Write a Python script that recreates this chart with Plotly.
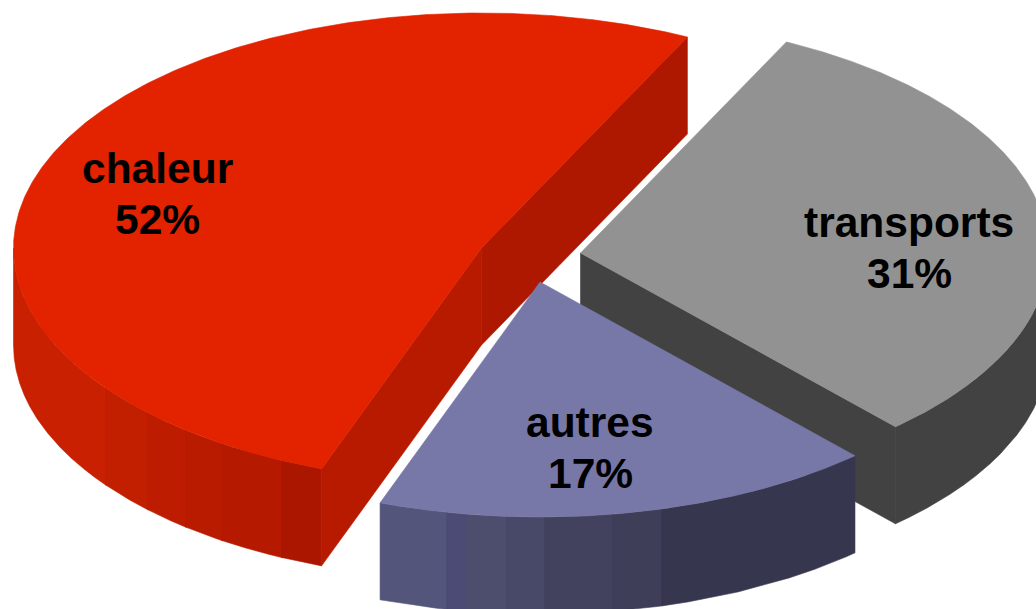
import numpy as np
import plotly.graph_objects as go

labels = ["transports", "autres", "chaleur"]
values = [31.0, 17.3, 51.7]
percent_labels = ["31%", "17%", "52%"]

START_DEG = 26.1
RX, RY, DEPTH = 468, 235, 97
APEX = {"transports": (580.5, 253), "autres": (540, 282), "chaleur": (481.5, 248)}
TOP = {"transports": "#929292", "autres": "#7878a8", "chaleur": "#e32200"}
# only the cut walls that face the viewer are drawn
WALL_END = {"transports": "#424242", "chaleur": "#ae1700"}
WALL_START = {"chaleur": "#b81a00"}
STRIP_X = {
    "transports": [800, 1060],
    "autres": [370, 447, 466, 507, 545, 613, 662, 870],
    "chaleur": [5, 106, 148, 186, 222, 282, 340],
}
STRIP_COLORS = {
    "transports": ["#424242"],
    "autres": ["#54557a", "#4b4b75", "#4d4d6e", "#484868", "#42425f", "#3e3e58", "#36364f"],
    "chaleur": ["#c82000", "#c21e00", "#be1c00", "#b91b00", "#b51a00", "#aa1600"],
}
LABEL_XY = {"transports": (909, 222), "autres": (590, 422), "chaleur": (157, 168)}
LINE_GAP = 51

fig = go.Figure()


def poly(xs, ys, color):
    fig.add_trace(go.Scatter(x=list(xs), y=list(ys), mode="lines", fill="toself",
                             fillcolor=color, line=dict(color=color, width=0.6),
                             hoverinfo="skip", showlegend=False))


def arc(name, a0, a1, n=500):
    t = np.radians(np.linspace(a0, a1, n))
    cx, cy = APEX[name]
    return cx + RX * np.sin(t), cy - RY * np.cos(t)


def wall(name, angle, color):
    cx, cy = APEX[name]
    ex, ey = arc(name, angle, angle, 1)
    poly([cx, ex[0], ex[0], cx, cx], [cy, ey[0], ey[0] + DEPTH, cy + DEPTH, cy], color)


# angular extents follow from the values
total = sum(values)
spans = {}
angle = START_DEG
for name, v in zip(labels, values):
    spans[name] = (angle, angle + 360 * v / total)
    angle += 360 * v / total

for name in ["chaleur", "transports", "autres"]:
    a0, a1 = spans[name]
    cx, cy = APEX[name]
    # outer rim, front half only
    lo, hi = max(a0, 90), min(a1, 270)
    ax, ay = arc(name, lo, hi, 1500)
    edges = STRIP_X[name]
    for i, col in enumerate(STRIP_COLORS[name]):
        m = (ax >= edges[i] - 0.5) & (ax <= edges[i + 1] + 0.5)
        if m.sum() < 2:
            continue
        sx, sy = ax[m], ay[m]
        poly(np.r_[sx, sx[::-1], sx[0]], np.r_[sy, sy[::-1] + DEPTH, sy[0]], col)
    # cut walls
    if name in WALL_END:
        wall(name, a1, WALL_END[name])
    if name in WALL_START:
        wall(name, a0, WALL_START[name])
    # top face
    tx, ty = arc(name, a0, a1)
    poly(np.r_[cx, tx, cx], np.r_[cy, ty, cy], TOP[name])

for name, pct in zip(labels, percent_labels):
    x, y = LABEL_XY[name]
    for k, text in enumerate([name, pct]):
        fig.add_annotation(x=x, y=y + k * LINE_GAP, text=f"<b>{text}</b>", showarrow=False,
                           xanchor="center", yanchor="middle",
                           font=dict(family="Liberation Sans", size=42.5, color="#000000"))

fig.update_layout(width=1036, height=609, margin=dict(l=0, r=0, t=0, b=0),
                  paper_bgcolor="white", plot_bgcolor="white", showlegend=False,
                  xaxis=dict(range=[0, 1036], visible=False, fixedrange=True),
                  yaxis=dict(range=[609, 0], visible=False, fixedrange=True))
fig.write_html("out.html", config={"displayModeBar": False},
               post_script="document.body.style.margin='0';document.body.style.overflow='hidden';")
